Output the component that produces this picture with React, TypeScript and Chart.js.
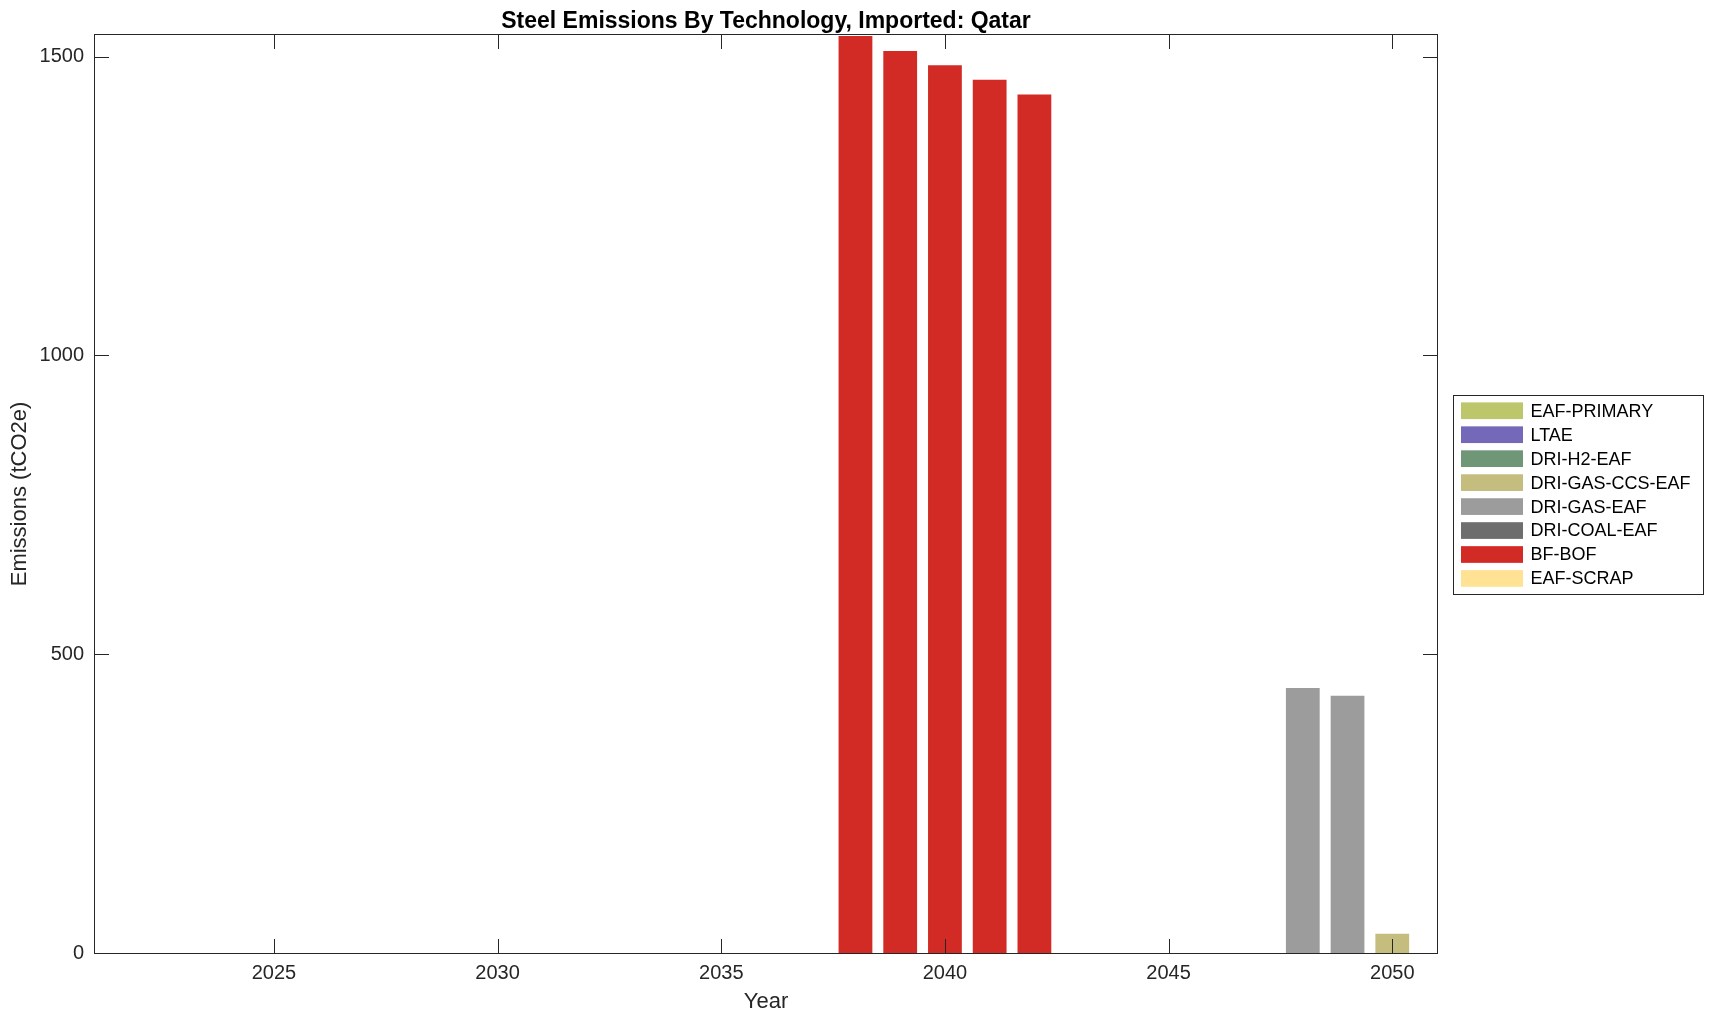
import React, { useEffect, useRef } from 'react';
import { Chart, registerables } from 'chart.js';

Chart.register(...registerables);

const FONT = '"Liberation Sans", Arial, Helvetica, sans-serif';

const years = [
  2022, 2023, 2024, 2025, 2026, 2027, 2028, 2029, 2030, 2031,
  2032, 2033, 2034, 2035, 2036, 2037, 2038, 2039, 2040, 2041,
  2042, 2043, 2044, 2045, 2046, 2047, 2048, 2049, 2050,
];

const eafPrimary = [0, 0, 0, 0, 0, 0, 0, 0, 0, 0, 0, 0, 0, 0, 0, 0, 0, 0, 0, 0, 0, 0, 0, 0, 0, 0, 0, 0, 0];
const ltae = [0, 0, 0, 0, 0, 0, 0, 0, 0, 0, 0, 0, 0, 0, 0, 0, 0, 0, 0, 0, 0, 0, 0, 0, 0, 0, 0, 0, 0];
const driH2Eaf = [0, 0, 0, 0, 0, 0, 0, 0, 0, 0, 0, 0, 0, 0, 0, 0, 0, 0, 0, 0, 0, 0, 0, 0, 0, 0, 0, 0, 0];
const driGasCcsEaf = [0, 0, 0, 0, 0, 0, 0, 0, 0, 0, 0, 0, 0, 0, 0, 0, 0, 0, 0, 0, 0, 0, 0, 0, 0, 0, 0, 0, 34];
const driGasEaf = [0, 0, 0, 0, 0, 0, 0, 0, 0, 0, 0, 0, 0, 0, 0, 0, 0, 0, 0, 0, 0, 0, 0, 0, 0, 0, 445, 432, 0];
const driCoalEaf = [0, 0, 0, 0, 0, 0, 0, 0, 0, 0, 0, 0, 0, 0, 0, 0, 0, 0, 0, 0, 0, 0, 0, 0, 0, 0, 0, 0, 0];
const bfBof = [0, 0, 0, 0, 0, 0, 0, 0, 0, 0, 0, 0, 0, 0, 0, 0, 1536, 1511, 1487, 1463, 1438, 0, 0, 0, 0, 0, 0, 0, 0];
const eafScrap = [0, 0, 0, 0, 0, 0, 0, 0, 0, 0, 0, 0, 0, 0, 0, 0, 0, 0, 0, 0, 0, 0, 0, 0, 0, 0, 0, 0, 0];

const seriesNames = [
  'EAF-PRIMARY', 'LTAE', 'DRI-H2-EAF', 'DRI-GAS-CCS-EAF',
  'DRI-GAS-EAF', 'DRI-COAL-EAF', 'BF-BOF', 'EAF-SCRAP',
];
const seriesValues = [eafPrimary, ltae, driH2Eaf, driGasCcsEaf, driGasEaf, driCoalEaf, bfBof, eafScrap];
const seriesColors = [
  '#bdc66a', '#7468b8', '#709678', '#c4bd7d',
  '#9c9c9c', '#6e6e6e', '#d22a24', '#ffe294',
];

const xTicks = [2025, 2030, 2035, 2040, 2045, 2050];
const yTicks = [0, 500, 1000, 1500];
const xMin = 2021;
const xMax = 2051;

const chartTitle = 'Steel Emissions By Technology, Imported: Qatar';
const xTitle = 'Year';
const yTitle = 'Emissions (tCO2e)';

const AXIS_COLOR = '#262626';

const framePlugin = {
  id: 'frameAndLegend',
  afterDatasetsDraw(chart: any) {
    const { ctx, chartArea, scales } = chart;
    const { left, right, top, bottom } = chartArea;
    ctx.save();
    ctx.strokeStyle = AXIS_COLOR;
    ctx.lineWidth = 1;
    ctx.strokeRect(left - 0.5, top - 0.5, right - left + 1, bottom - top + 1);
    const tl = 14;
    ctx.beginPath();
    for (const v of xTicks) {
      const px = Math.round(scales.x.getPixelForValue(v)) + 0.5;
      ctx.moveTo(px, bottom);
      ctx.lineTo(px, bottom - tl);
      ctx.moveTo(px, top);
      ctx.lineTo(px, top + tl);
    }
    for (const v of yTicks) {
      const py = Math.round(scales.y.getPixelForValue(v)) + 0.5;
      ctx.moveTo(left, py);
      ctx.lineTo(left + tl, py);
      ctx.moveTo(right, py);
      ctx.lineTo(right - tl, py);
    }
    ctx.stroke();

    // title, centred over the plot area
    ctx.fillStyle = '#000000';
    ctx.font = `bold 23px ${FONT}`;
    ctx.textAlign = 'center';
    ctx.textBaseline = 'alphabetic';
    ctx.fillText(chartTitle, (left + right) / 2, 28.3);

    // legend
    const boxL = 1453.5;
    const boxT = 395.5;
    const boxW = 250;
    const boxH = 199;
    ctx.fillStyle = '#ffffff';
    ctx.fillRect(boxL, boxT, boxW, boxH);
    ctx.strokeStyle = AXIS_COLOR;
    ctx.strokeRect(boxL, boxT, boxW, boxH);
    const datasets = chart.data.datasets;
    ctx.font = `18px ${FONT}`;
    ctx.textBaseline = 'middle';
    ctx.textAlign = 'left';
    datasets.forEach((ds: any, i: number) => {
      const cy = 410.7 + i * 23.96;
      ctx.fillStyle = ds.backgroundColor;
      ctx.fillRect(1461, cy - 8.3, 62, 16.7);
      ctx.fillStyle = '#000000';
      ctx.fillText(ds.label, 1530.5, cy + 1);
    });
    ctx.restore();
  },
};

export default function App() {
  const ref = useRef<HTMLCanvasElement | null>(null);

  useEffect(() => {
    if (!ref.current) return;
    const stackMax = Math.max(
      ...years.map((_, i) => seriesValues.reduce((s, arr) => s + arr[i], 0)),
    );
    const chart = new Chart(ref.current, {
      type: 'bar',
      data: {
        labels: years,
        datasets: seriesNames.map((name, k) => ({
          label: name,
          data: seriesValues[k],
          backgroundColor: seriesColors[k],
          borderColor: 'rgba(255,255,255,0.45)',
          borderWidth: 1,
          categoryPercentage: 0.8,
          barPercentage: 1,
        })),
      },
      options: {
        responsive: false,
        animation: false,
        layout: { padding: { left: 0, right: 277, top: 35, bottom: 0 } },
        plugins: {
          legend: { display: false },
          tooltip: { enabled: false },
          title: { display: false },
        },
        scales: {
          x: {
            type: 'linear',
            stacked: true,
            offset: false,
            min: xMin,
            max: xMax,
            grid: { display: false, drawTicks: false, offset: false },
            border: { display: false },
            afterBuildTicks: (scale: any) => {
              scale.ticks = xTicks.map((v) => ({ value: v }));
            },
            afterFit: (scale: any) => {
              scale.height = 68;
            },
            ticks: {
              color: AXIS_COLOR,
              font: { family: FONT, size: 20 },
              padding: 8,
              maxRotation: 0,
              autoSkip: false,
              callback: (v: any) => String(v),
            },
            title: {
              display: true,
              text: xTitle,
              color: AXIS_COLOR,
              font: { family: FONT, size: 22 },
              padding: { top: 0, bottom: 5.8 },
            },
          },
          y: {
            type: 'linear',
            stacked: true,
            min: 0,
            max: stackMax,
            grid: { display: false, drawTicks: false },
            border: { display: false },
            afterBuildTicks: (scale: any) => {
              scale.ticks = yTicks.map((v) => ({ value: v }));
            },
            afterFit: (scale: any) => {
              scale.width = 95;
            },
            ticks: {
              color: AXIS_COLOR,
              font: { family: FONT, size: 20 },
              padding: 11,
              autoSkip: false,
              callback: (v: any) => String(v),
            },
            title: {
              display: true,
              text: yTitle,
              color: AXIS_COLOR,
              font: { family: FONT, size: 22 },
              padding: { top: 6.8, bottom: 0 },
            },
          },
        },
      } as any,
      plugins: [framePlugin],
    });
    return () => chart.destroy();
  }, []);

  return (
    <div style={{ position: 'absolute', left: 0, top: 0, width: 1714, height: 1021, background: '#ffffff' }}>
      <canvas ref={ref} width={1714} height={1021} style={{ display: 'block' }} />
    </div>
  );
}
